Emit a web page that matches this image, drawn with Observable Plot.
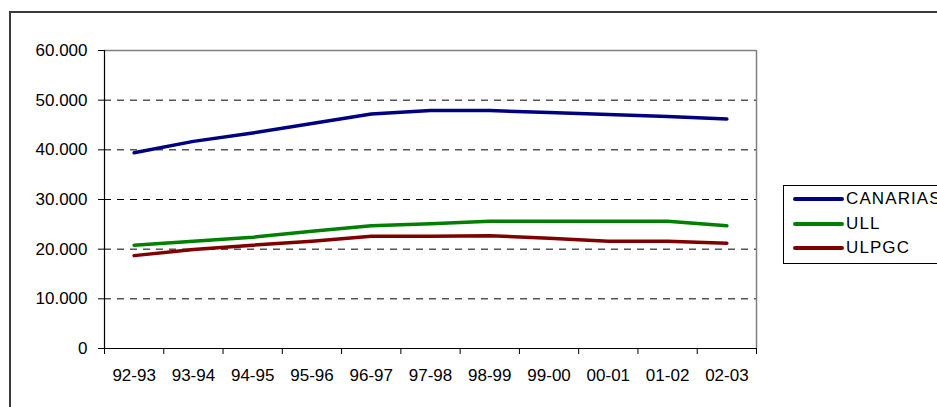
<!DOCTYPE html>
<html>
<head>
<meta charset="utf-8">
<script src="https://cdn.jsdelivr.net/npm/d3@7"></script>
<script src="https://cdn.jsdelivr.net/npm/@observablehq/plot@0.6"></script>
<style>
  html, body { margin: 0; padding: 0; background: #fff; overflow: hidden; }
  #wrap { position: relative; width: 937px; height: 407px; overflow: hidden; font-family: "Liberation Sans", Arial, sans-serif; }
  #wrap svg { position: absolute; left: 0; top: 0; }
  #outer { position: absolute; left: 9px; top: 11px; width: 1000px; height: 500px; border-left: 2px solid #3a3a3a; border-top: 2px solid #3a3a3a; pointer-events: none; }
  #legend { position: absolute; left: 783px; top: 185px; width: 170px; height: 79px; border: 1px solid #000; background: #fff; box-sizing: border-box; }
  .item { position: absolute; left: 9px; height: 20px; display: flex; align-items: center; }
  .swatch { width: 51px; height: 3.5px; border-radius: 2px; }
  .label { font-size: 17px; color: #000; margin-left: 2px; letter-spacing: 1.1px; white-space: nowrap; }
</style>
</head>
<body>
<div id="wrap">
  <div id="outer"></div>
  <div id="legend"></div>
</div>
<script>
// Academic years on the horizontal axis
const years = ["92-93", "93-94", "94-95", "95-96", "96-97", "97-98", "98-99", "99-00", "00-01", "01-02", "02-03"];

// Enrolled students per year
const canarias = [39400, 41700, 43400, 45300, 47200, 47900, 47900, 47500, 47100, 46700, 46200];
const ull      = [20800, 21600, 22400, 23600, 24700, 25100, 25600, 25600, 25600, 25600, 24700];
const ulpgc    = [18700, 19950, 20800, 21600, 22600, 22600, 22700, 22200, 21600, 21600, 21200];

const seriesNames  = ["CANARIAS", "ULL", "ULPGC"];
const seriesValues = [canarias, ull, ulpgc];
const seriesColors = ["#000080", "#008000", "#800000"];

const yTicks = [0, 10000, 20000, 30000, 40000, 50000, 60000];
const gridValues = [10000, 20000, 30000, 40000, 50000];

// Long-format table: one row per (series, year)
const rows = seriesNames.flatMap((name, s) =>
  seriesValues[s].map((v, i) => ({series: name, i, value: v}))
);

const centers = years.map((_, i) => i);
const boundaries = d3.range(-0.5, years.length, 1);
const fmtThousands = d => d === 0 ? "0" : d3.format(",")(d).replace(/,/g, ".");

const chart = Plot.plot({
  width: 937,
  height: 407,
  marginLeft: 104,
  marginRight: 181,
  marginTop: 50,
  marginBottom: 59,
  style: {fontFamily: "'Liberation Sans', Arial, sans-serif", fontSize: "17px", color: "#000", background: "transparent", overflow: "visible"},
  x: {type: "linear", domain: [-0.5, years.length - 0.5]},
  y: {domain: [0, 60000]},
  color: {domain: seriesNames, range: seriesColors},
  marks: [
    // dashed horizontal gridlines
    Plot.ruleY(gridValues, {stroke: "#000", strokeWidth: 1, strokeDasharray: "7,6"}),
    // plot-area frame on top and right
    Plot.ruleY([60000], {stroke: "#808080", strokeWidth: 1.5}),
    Plot.ruleX([years.length - 0.5], {stroke: "#808080", strokeWidth: 1.5}),
    // axes
    Plot.axisY({ticks: yTicks, tickSize: 6, tickPadding: 11, tickFormat: fmtThousands, label: null, stroke: "#000"}),
    Plot.axisX({ticks: boundaries, tickSize: 6, tickFormat: () => "", label: null, stroke: "#000"}),
    Plot.axisX({ticks: centers, tickSize: 0, tickPadding: 20, tickFormat: i => years[i], label: null}),
    Plot.ruleY([0], {stroke: "#000", strokeWidth: 1.2}),
    Plot.ruleX([-0.5], {stroke: "#000", strokeWidth: 1.2}),
    // series lines
    Plot.line(rows, {x: "i", y: "value", z: "series", stroke: "series", strokeWidth: 3.5, strokeLinecap: "round", strokeLinejoin: "round"})
  ]
});

document.getElementById("wrap").insertBefore(chart, document.getElementById("outer"));

// Legend
const legend = document.getElementById("legend");
const rowTops = [3, 28, 52];
seriesNames.forEach((name, s) => {
  const item = document.createElement("div");
  item.className = "item";
  item.style.top = rowTops[s] + "px";
  const sw = document.createElement("div");
  sw.className = "swatch";
  sw.style.background = seriesColors[s];
  const lb = document.createElement("span");
  lb.className = "label";
  lb.textContent = name;
  item.appendChild(sw);
  item.appendChild(lb);
  legend.appendChild(item);
});
</script>
</body>
</html>
